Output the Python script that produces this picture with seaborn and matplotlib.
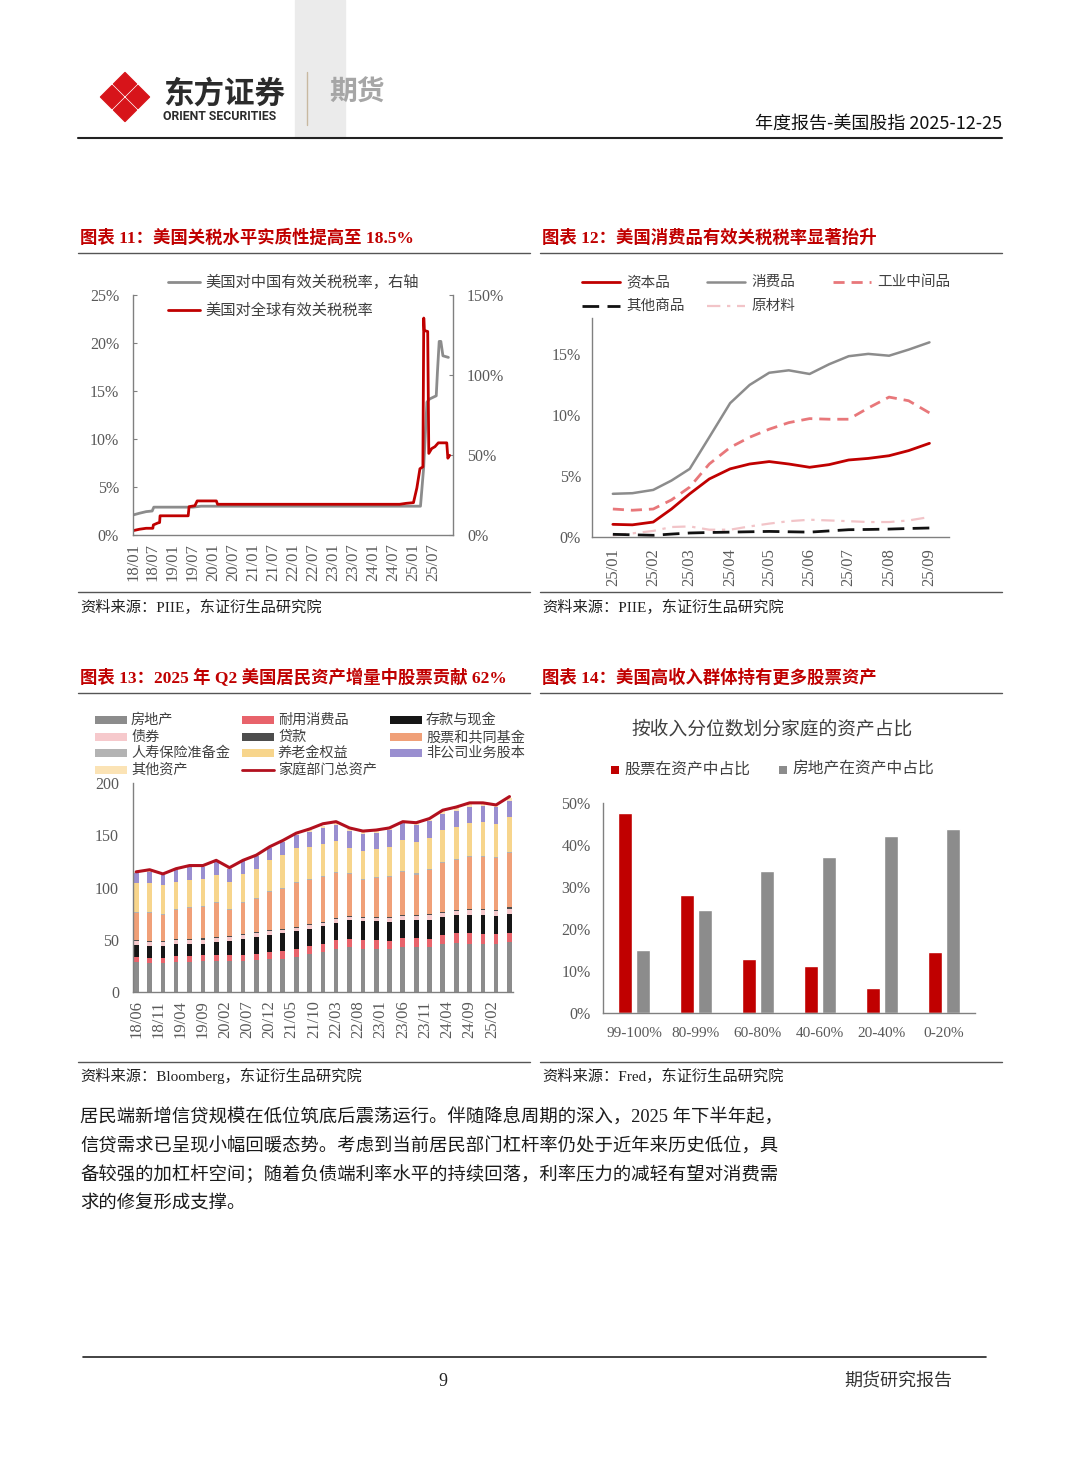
import pandas as pd
import seaborn as sns
import matplotlib.pyplot as plt
import matplotlib.dates as mdates
from matplotlib.patches import Polygon, Rectangle

sns.set_style('white')
SERIF = ['Liberation Serif', 'Noto Sans CJK SC', 'DejaVu Sans']
SANS = ['Noto Sans CJK SC', 'DejaVu Sans']
plt.rcParams['font.family'] = SERIF
plt.rcParams['axes.unicode_minus'] = False

W, H = 1080, 1466
RED = '#C00000'
GRAY = '#8C8C8C'
TXT = '#404040'
TICK = '#595959'
SPINE = '#808080'

# ---------- chart 11: effective tariff rates ----------
china_dates = ['2018-01-01', '2018-03-01', '2018-05-01', '2018-06-25', '2018-07-10', '2019-07-01',
               '2019-09-15', '2025-03-10', '2025-04-08', '2025-05-08', '2025-06-01', '2025-08-01',
               '2025-08-12', '2025-08-28', '2025-09-12', '2025-10-01', '2025-11-20']
china_rate = [12.5, 13.6, 14.6, 15.0, 17.4, 17.4, 18.0, 18.0, 42.0, 83.0, 85.0, 87.0,
              102.0, 121.0, 121.0, 112.0, 111.0]   # right axis, %
world_dates = ['2018-01-01', '2018-03-01', '2018-05-01', '2018-07-01', '2018-07-06', '2018-08-15',
               '2018-09-01', '2018-09-05', '2019-05-20', '2019-05-28', '2019-07-20', '2019-08-10',
               '2020-02-01', '2020-02-12', '2024-09-01', '2024-11-01', '2025-01-05', '2025-02-05',
               '2025-03-05', '2025-04-01', '2025-04-09', '2025-04-14', '2025-05-15', '2025-05-25',
               '2025-06-20', '2025-07-20', '2025-08-20', '2025-11-05', '2025-11-15', '2025-12-01']
world_rate = [0.45, 0.6, 0.7, 0.7, 1.05, 1.25, 1.3, 2.0, 2.0, 2.95, 3.05, 3.55,
              3.55, 3.2, 3.2, 3.3, 3.37, 4.9, 6.9, 7.1, 22.6, 21.3, 21.2, 8.5,
              9.0, 9.2, 9.6, 9.6, 8.0, 8.3]         # left axis, %

# ---------- chart 12: tariff rate by goods type ----------
dates12 = ['2025-01-01', '2025-01-16', '2025-02-01', '2025-02-15', '2025-03-01', '2025-03-16',
           '2025-04-01', '2025-04-16', '2025-05-01', '2025-05-16', '2025-06-01', '2025-06-16',
           '2025-07-01', '2025-07-16', '2025-08-01', '2025-08-16', '2025-09-01']
capital_goods = [1.04, 1.0, 1.23, 2.3, 3.55, 4.77, 5.6, 6.0, 6.2, 6.0, 5.73, 5.95, 6.33, 6.46, 6.68, 7.1, 7.7]
consumer_goods = [3.55, 3.6, 3.87, 4.64, 5.6, 8.2, 11.0, 12.5, 13.5, 13.7, 13.4, 14.2, 14.86, 15.05, 14.9, 15.4, 16.0]
industrial_goods = [2.3, 2.2, 2.3, 3.05, 4.1, 6.0, 7.36, 8.2, 8.86, 9.4, 9.73, 9.68, 9.68, 10.6, 11.5, 11.2, 10.2]
other_goods = [0.22, 0.18, 0.14, 0.24, 0.33, 0.37, 0.4, 0.43, 0.46, 0.43, 0.4, 0.5, 0.6, 0.62, 0.65, 0.7, 0.74]
raw_materials = [0.14, 0.3, 0.5, 0.82, 0.87, 0.6, 0.6, 0.87, 1.1, 1.3, 1.42, 1.36, 1.3, 1.23, 1.23, 1.36, 1.64]

# ---------- chart 13: household assets, trillion USD, quarterly 18/06 - 25/06 ----------
quarters = pd.date_range('2018-06-01', periods=29, freq='3MS')
real_estate = [28.8, 28.0, 28.0, 28.8, 28.8, 29.8, 30.0, 29.6, 30.0, 31.0, 32.0, 32.0, 33.6, 36.2, 38.4,
               41.6, 43.0, 41.6, 41.6, 41.0, 43.0, 43.0, 43.2, 45.8, 47.0, 46.4, 46.0, 46.4, 48.0]
durables = [4.8, 5.0, 5.0, 5.2, 5.2, 5.4, 5.4, 5.4, 5.6, 5.8, 6.2, 7.0, 8.0, 7.6, 7.4,
            8.0, 8.0, 8.0, 8.0, 8.0, 8.2, 8.2, 7.8, 8.6, 9.0, 9.6, 9.6, 9.4, 8.6]
deposits = [11.2, 11.0, 11.0, 11.8, 11.8, 11.2, 12.2, 13.4, 15.0, 15.6, 16.4, 17.0, 16.4, 16.9, 17.2,
            16.4, 18.0, 18.4, 17.9, 18.0, 18.0, 17.6, 18.0, 17.6, 17.6, 17.6, 18.0, 17.4, 18.4]
bonds = [3.8, 4.0, 4.0, 3.6, 3.6, 3.8, 3.6, 3.8, 3.8, 3.6, 3.4, 3.6, 2.8, 3.2, 3.0,
         3.4, 2.6, 3.0, 3.0, 3.4, 3.6, 3.8, 5.0, 3.8, 3.8, 4.4, 4.4, 4.2, 4.9]
loans = [1.0] * 29
stocks = [25.6, 27.0, 24.6, 28.0, 29.6, 29.8, 32.8, 24.8, 29.6, 32.4, 36.6, 38.0, 42.8, 42.4, 43.0,
          43.6, 40.0, 34.8, 38.0, 38.6, 41.0, 38.8, 42.0, 47.0, 47.6, 50.0, 50.4, 50.2, 52.1]
life_insurance = [1.0] * 29
pensions = [27.8, 27.6, 27.8, 26.2, 26.2, 25.8, 26.0, 26.6, 27.0, 27.6, 29.4, 31.6, 32.4, 30.6, 31.0,
            29.6, 24.4, 27.2, 26.1, 28.0, 29.4, 30.0, 29.8, 30.2, 31.0, 32.0, 32.0, 31.0, 33.0]
noncorp_equity = [10.0, 10.4, 10.0, 11.0, 12.0, 11.6, 12.0, 12.4, 12.0, 12.0, 12.0, 12.8, 12.0, 14.6, 15.0,
                  15.4, 15.6, 16.0, 16.0, 16.0, 16.6, 16.6, 15.9, 15.0, 14.8, 15.0, 15.6, 16.0, 16.0]
other_assets = [1.0, 2.0, 0.6, 1.4, 1.0, 1.0, 1.0, 1.0, 1.0, 1.0, 1.0, 1.0, 1.0, 1.5, 2.0,
                2.0, 2.4, 2.0, 2.4, 2.0, 1.2, 2.0, 1.3, 3.0, 3.2, 3.0, 2.0, 2.4, 3.0]
total_assets = [115, 117, 113, 118, 121, 121, 126, 119, 126, 131, 139, 145, 152, 156, 161,
                163, 157, 154, 155, 157, 163, 162, 166, 174, 177, 181, 181, 179, 187]

# ---------- chart 14: asset share by income percentile ----------
income_groups = ['99-100%', '80-99%', '60-80%', '40-60%', '20-40%', '0-20%']
stock_share = [47.6, 28.2, 12.9, 11.3, 6.0, 14.5]
estate_share = [15.1, 24.6, 33.7, 37.1, 42.1, 43.8]

fig = plt.figure(figsize=(W / 100, H / 100), dpi=100)
bg = fig.add_axes([0, 0, 1, 1])
bg.set_xlim(0, W)
bg.set_ylim(H, 0)
bg.axis('off')


def rect(x0, y0, x1, y1):
    return [x0 / W, 1 - y1 / H, (x1 - x0) / W, (y1 - y0) / H]


def style_axes(ax, spines=('left', 'bottom')):
    for s in ['left', 'right', 'top', 'bottom']:
        ax.spines[s].set_visible(s in spines)
        ax.spines[s].set_color(SPINE)
        ax.spines[s].set_linewidth(1)
    ax.tick_params(colors=SPINE, labelcolor=TICK, labelsize=11.5, direction='in', length=3)
    ax.grid(False)
    ax.set_xlabel('')
    ax.set_ylabel('')


# ---------- page header ----------
bg.add_patch(Rectangle((295, 0), 50, 138, color='#EBEBEB', zorder=0))
for cx, cy in [(125, 84), (125, 110), (112, 97), (138, 97)]:
    d = 11.5
    bg.add_patch(Polygon([(cx, cy - d), (cx + d, cy), (cx, cy + d), (cx - d, cy)],
                         closed=True, color='#D7141A', joinstyle='round'))
bg.text(163, 94, '东方证券', family=SANS, fontsize=22, weight='bold', color='#2B2B2B', va='center')
bg.text(163, 117, 'ORIENT SECURITIES', family=['Roboto', 'DejaVu Sans'], fontsize=8.8, weight='bold',
        color='#2B2B2B', va='center')
bg.plot([307, 307], [72, 125], color='#C8B8A0', lw=1)
bg.text(329, 93, '期货', family=SANS, fontsize=20, weight='bold', color='#A6A6A6', va='center')
bg.text(1002, 124, '年度报告-美国股指 2025-12-25', family=SANS, fontsize=13, color='#111111',
        ha='right', va='center')
bg.plot([78, 1002], [138, 138], color='#222222', lw=1.5)

# ---------- titles, rules and sources ----------
bg.text(80, 238, '图表 11：美国关税水平实质性提高至 18.5%', color=RED, fontsize=12.5, weight='bold', va='center')
bg.text(542, 238, '图表 12：美国消费品有效关税税率显著抬升', color=RED, fontsize=12.5, weight='bold', va='center')
bg.text(80, 678, '图表 13：2025 年 Q2 美国居民资产增量中股票贡献 62%', color=RED, fontsize=12.5, weight='bold',
        va='center')
bg.text(542, 678, '图表 14：美国高收入群体持有更多股票资产', color=RED, fontsize=12.5, weight='bold', va='center')
for y in [253, 592, 693, 1062]:
    bg.plot([78, 530], [y, y], color='#555555', lw=1)
    bg.plot([540, 1002], [y, y], color='#555555', lw=1)
bg.text(80, 607, '资料来源：PIIE，东证衍生品研究院', color='#222222', fontsize=11, va='center')
bg.text(542, 607, '资料来源：PIIE，东证衍生品研究院', color='#222222', fontsize=11, va='center')
bg.text(80, 1076, '资料来源：Bloomberg，东证衍生品研究院', color='#222222', fontsize=11, va='center')
bg.text(542, 1076, '资料来源：Fred，东证衍生品研究院', color='#222222', fontsize=11, va='center')

body = ['居民端新增信贷规模在低位筑底后震荡运行。伴随降息周期的深入，2025 年下半年起，',
        '信贷需求已呈现小幅回暖态势。考虑到当前居民部门杠杆率仍处于近年来历史低位，具',
        '备较强的加杠杆空间；随着负债端利率水平的持续回落，利率压力的减轻有望对消费需',
        '求的修复形成支撑。']
for i, line in enumerate(body):
    bg.text(80, 1118 + i * 28.5, line, color='#1A1A1A', fontsize=13.2, va='center')

bg.plot([83, 986], [1357, 1357], color='#222222', lw=1.2)
bg.text(443, 1381, '9', fontsize=13, color='#222222', ha='center', va='center')
bg.text(952, 1381, '期货研究报告', family=SANS, fontsize=13, color='#333333', ha='right', va='center')

# ---------- chart 11 ----------
ax1 = fig.add_axes(rect(133, 295, 453, 535))
ax1r = ax1.twinx()
sns.lineplot(x=pd.to_datetime(china_dates), y=china_rate, ax=ax1r, color=GRAY, lw=2)
sns.lineplot(x=pd.to_datetime(world_dates), y=world_rate, ax=ax1, color=RED, lw=2)
ax1.set_zorder(ax1r.get_zorder() + 1)
ax1.patch.set_visible(False)
style_axes(ax1, ('left', 'bottom'))
style_axes(ax1r, ('right',))
ax1.set_xlim(pd.Timestamp('2018-01-01'), pd.Timestamp('2026-01-01'))
ax1.set_ylim(0, 25)
ax1r.set_ylim(0, 150)
ax1.set_yticks([0, 5, 10, 15, 20, 25], [f'{v}%' for v in [0, 5, 10, 15, 20, 25]])
ax1r.set_yticks([0, 50, 100, 150], [f'{v}%' for v in [0, 50, 100, 150]])
ax1.set_xticks(pd.date_range('2018-01-01', '2025-07-01', freq='6MS'))
ax1.xaxis.set_major_formatter(mdates.DateFormatter('%y/%m'))
ax1.tick_params(axis='x', rotation=90, labelsize=12, pad=6)
ax1.tick_params(axis='y', pad=10)
ax1r.tick_params(axis='y', pad=10)

bg.plot([168, 200], [282, 282], color=GRAY, lw=2)
bg.text(205, 282, '美国对中国有效关税税率，右轴', color=TXT, fontsize=11, va='center')
bg.plot([168, 200], [310, 310], color=RED, lw=2)
bg.text(205, 310, '美国对全球有效关税税率', color=TXT, fontsize=11, va='center')

# ---------- chart 12 ----------
ax2 = fig.add_axes(rect(592, 318, 949, 537))
d12 = pd.to_datetime(dates12)
sns.lineplot(x=d12, y=raw_materials, ax=ax2, color='#F2C4C8', lw=1.6)
ax2.lines[-1].set_dashes([6, 3, 1.5, 3])
sns.lineplot(x=d12, y=other_goods, ax=ax2, color='#111111', lw=2)
ax2.lines[-1].set_dashes([6, 3])
sns.lineplot(x=d12, y=industrial_goods, ax=ax2, color='#E8777A', lw=2)
ax2.lines[-1].set_dashes([4, 2.5])
sns.lineplot(x=d12, y=consumer_goods, ax=ax2, color=GRAY, lw=1.8)
sns.lineplot(x=d12, y=capital_goods, ax=ax2, color=RED, lw=2)
style_axes(ax2)
ax2.set_xlim(pd.Timestamp('2024-12-16'), pd.Timestamp('2025-09-16'))
ax2.set_ylim(0, 18)
ax2.set_yticks([0, 5, 10, 15], [f'{v}%' for v in [0, 5, 10, 15]])
ax2.set_xticks(pd.date_range('2025-01-01', '2025-09-01', freq='MS'))
ax2.xaxis.set_major_formatter(mdates.DateFormatter('%y/%m'))
ax2.set_xticks([d + pd.Timedelta(days=15) for d in pd.date_range('2024-12-01', '2025-09-01', freq='MS')],
               minor=True)
ax2.tick_params(axis='x', which='major', length=0, rotation=90, labelsize=12, pad=8)
ax2.tick_params(axis='x', which='minor', length=3, direction='in', colors=SPINE)
ax2.tick_params(axis='y', pad=8)

leg12 = [(582, 282, '资本品', RED, '-', 2), (707, 282, '消费品', GRAY, '-', 1.8),
         (833, 282, '工业中间品', '#E8777A', (0, (4, 2.5)), 2),
         (582, 306, '其他商品', '#111111', (0, (6, 3)), 2),
         (707, 306, '原材料', '#F2C4C8', (0, (6, 3, 1.5, 3)), 1.6)]
for x, y, lab, c, ls, lw in leg12:
    bg.plot([x, x + 38], [y, y], color=c, ls=ls, lw=lw)
    bg.text(x + 44, y, lab, color=TXT, fontsize=10.5, va='center')

# ---------- chart 13 ----------
ax3 = fig.add_axes(rect(133, 783, 513, 992))
parts = [('房地产', real_estate, '#8C8C8C'), ('耐用消费品', durables, '#E8636B'),
         ('存款与现金', deposits, '#161616'), ('债券', bonds, '#F6C9CC'),
         ('贷款', loans, '#4D4D4D'), ('股票和共同基金', stocks, '#F0A078'),
         ('人寿保险准备金', life_insurance, '#B3B3B3'), ('养老金权益', pensions, '#F7D58C'),
         ('非公司业务股本', noncorp_equity, '#9A8FD0'), ('其他资产', other_assets, '#FBE3B5')]
base = [0.0] * len(quarters)
for name, vals, col in parts:
    ax3.bar(quarters, vals, bottom=base, width=32, color=col, linewidth=0)
    base = [b + v for b, v in zip(base, vals)]
sns.lineplot(x=quarters, y=total_assets, ax=ax3, color='#B2101E', lw=2.2)
if ax3.get_legend() is not None:
    ax3.get_legend().remove()
style_axes(ax3)
ax3.set_xlim(pd.Timestamp('2018-05-10'), pd.Timestamp('2025-06-25'))
ax3.set_ylim(0, 200)
ax3.set_yticks([0, 50, 100, 150, 200])
ax3.set_xticks(pd.date_range('2018-06-01', '2025-02-01', freq='5MS'))
ax3.xaxis.set_major_formatter(mdates.DateFormatter('%y/%m'))
ax3.tick_params(axis='x', rotation=90, labelsize=12, pad=6)
ax3.tick_params(axis='y', pad=10)
bg.text(153, 800, '万亿美元', color=TXT, fontsize=11, va='center')

leg_order = ['房地产', '耐用消费品', '存款与现金', '债券', '贷款', '股票和共同基金',
             '人寿保险准备金', '养老金权益', '非公司业务股本', '其他资产', '家庭部门总资产']
leg_cols = [95, 242, 390]
leg_rows = [720, 737, 753, 770]
for name, vals, col in parts + [('家庭部门总资产', None, '#B2101E')]:
    j = leg_order.index(name)
    x, y = leg_cols[j % 3], leg_rows[j // 3]
    if vals is None:
        bg.plot([x, x + 32], [y, y], color=col, lw=2)
    else:
        bg.add_patch(Rectangle((x, y - 4), 32, 8, color=col, lw=0))
    bg.text(x + 36, y, name, color=TXT, fontsize=10.2, va='center')

# ---------- chart 14 ----------
ax4 = fig.add_axes(rect(603, 803, 975, 1013))
df14 = pd.DataFrame({'group': income_groups * 2,
                     'share': stock_share + estate_share,
                     'kind': ['股票在资产中占比'] * 6 + ['房地产在资产中占比'] * 6})
sns.barplot(data=df14, x='group', y='share', hue='kind', palette=[RED, GRAY], width=0.58, gap=0.22,
            saturation=1, ax=ax4, legend=False)
style_axes(ax4)
ax4.set_xlim(-0.5, 5.5)
ax4.set_ylim(0, 50)
ax4.set_yticks([0, 10, 20, 30, 40, 50], [f'{v}%' for v in [0, 10, 20, 30, 40, 50]])
ax4.set_xticks([i - 0.5 for i in range(7)], minor=True)
ax4.tick_params(axis='x', which='major', length=0, labelsize=11, pad=10)
ax4.tick_params(axis='x', which='minor', length=4, direction='in', colors=SPINE)
ax4.tick_params(axis='y', pad=9)
bg.text(772, 730, '按收入分位数划分家庭的资产占比', color=TXT, fontsize=13.5, ha='center', va='center')
bg.add_patch(Rectangle((611, 766), 8, 8, color=RED, lw=0))
bg.text(624, 770, '股票在资产中占比', color=TXT, fontsize=11.3, va='center')
bg.add_patch(Rectangle((779, 766), 8, 8, color=GRAY, lw=0))
bg.text(792, 770, '房地产在资产中占比', color=TXT, fontsize=11.3, va='center')

fig.savefig('out.png', dpi=100)
